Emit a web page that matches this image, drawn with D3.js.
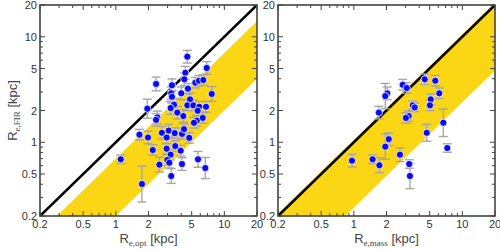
<!DOCTYPE html>
<html><head><meta charset="utf-8">
<script src="https://cdn.jsdelivr.net/npm/d3@7"></script>
<style>body{margin:0;background:#fff}svg{display:block}</style>
</head><body><svg id="c" width="500" height="250"></svg>
<script>
// Left panel: R_e,opt vs R_e,FIR (kpc)
const leftX=[4.56,6.88,4.37,2.35,3.29,4.28,5.40,5.84,6.40,3.24,4.01,4.62,7.65,3.29,4.83,1.95,3.44,3.20,4.56,5.17,5.88,6.78,5.68,3.69,4.19,2.41,2.35,6.32,5.56,5.25,2.66,3.07,3.49,4.07,4.25,1.65,1.98,2.94,4.75,2.19,2.94,3.53,3.96,3.20,2.98,1.11,2.52,3.11,4.07,5.72,6.68,3.24,1.74];
const leftY=[6.47,5.06,4.56,3.57,3.47,3.95,3.67,3.83,3.89,2.91,2.91,3.22,2.87,2.70,2.55,2.08,2.27,2.11,2.24,2.24,2.17,2.17,1.99,1.91,1.77,1.72,1.63,1.70,1.60,1.53,1.23,1.29,1.22,1.20,1.33,1.18,1.11,1.11,1.10,0.844,0.869,0.92,0.832,0.762,0.679,0.689,0.613,0.64,0.622,0.689,0.570,0.479,0.402];
const leftErr=[0.06,0.06,0.06,0.065,0.06,0.06,0.05,0.05,0.05,0.06,0.06,0.05,0.07,0.06,0.06,0.09,0.06,0.06,0.05,0.05,0.05,0.05,0.05,0.06,0.06,0.06,0.06,0.05,0.05,0.05,0.06,0.06,0.05,0.05,0.05,0.05,0.06,0.06,0.05,0.05,0.05,0.05,0.05,0.05,0.05,0.04,0.07,0.05,0.06,0.075,0.1,0.07,0.17];
// Right panel: R_e,mass vs R_e,FIR (kpc)
const rightX=[2.82,3.07,4.50,5.63,2.03,1.95,6.13,5.11,5.03,3.49,3.64,1.70,3.20,3.02,6.68,4.70,2.10,1.95,7.27,0.962,1.49,1.72,2.66,3.24,3.29];
const rightY=[3.51,3.27,3.95,3.83,2.91,2.74,2.91,2.55,2.24,2.24,2.14,1.91,1.77,1.70,1.53,1.23,1.07,0.908,0.882,0.669,0.689,0.605,0.762,0.622,0.479];
const rightErr=[0.05,0.05,0.05,0.05,0.06,0.12,0.05,0.05,0.05,0.04,0.04,0.06,0.05,0.05,0.13,0.08,0.06,0.12,0.04,0.06,0.04,0.07,0.065,0.04,0.12];
// Shaded ratio bands (R_FIR / R_other)
const leftBand=[0.2,0.7];
const rightBand=[0.24,1.06];
const majorTicks=[0.2,0.5,1,2,5,10,20];
const tickLabels=["0.2","0.5","1","2","5","10","20"];
const minorTicks=[0.3,0.4,0.6,0.7,0.8,0.9,3,4,6,7,8,9];
const domain=[0.2,20];

const svg=d3.select("#c");
const T=5,B=216;
const ys=d3.scaleLog().domain(domain).range([B,T]);

function label(g,x,y,sub,rot){
  const t=g.append("text").attr("transform",`translate(${x},${y})`+(rot?" rotate(-90)":""))
    .attr("text-anchor","middle").attr("fill","#444")
    .style("font-family","'Liberation Sans',Arial,sans-serif").style("font-size","13px");
  t.append("tspan").text("R");
  t.append("tspan").attr("dy",3).style("font-family","'Liberation Serif','DejaVu Serif',serif").style("font-size","9px").text(sub);
  t.append("tspan").attr("dy",-3).text(" [kpc]");
}

function panel(id,x0,x1,xsData,ysData,errs,band,sub){
  const xs=d3.scaleLog().domain(domain).range([x0,x1]);
  const g=svg.append("g");
  g.append("clipPath").attr("id","clip"+id).append("rect")
    .attr("x",x0).attr("y",T).attr("width",x1-x0).attr("height",B-T);
  const pg=g.append("g").attr("clip-path",`url(#clip${id})`);
  const bx=[0.02,200];
  const poly=[[bx[0],bx[0]*band[1]],[bx[1],bx[1]*band[1]],[bx[1],bx[1]*band[0]],[bx[0],bx[0]*band[0]]];
  pg.append("path").attr("d",d3.line().x(d=>xs(d[0])).y(d=>ys(d[1]))(poly)+"Z").attr("fill","#fad615");
  pg.append("line").attr("x1",xs(domain[0])).attr("y1",ys(domain[0])).attr("x2",xs(domain[1])).attr("y2",ys(domain[1]))
    .attr("stroke","#000").attr("stroke-width",2.6);
  const pts=xsData.map((x,i)=>({x,y:ysData[i],e:errs[i]}));
  const eb=pg.append("g").attr("stroke","#a6a6a6").attr("stroke-width",1.4).attr("fill","none");
  pts.forEach(p=>{
    const cx=xs(p.x),yt=ys(p.y*Math.pow(10,p.e)),yb=ys(p.y/Math.pow(10,p.e));
    eb.append("line").attr("x1",cx).attr("x2",cx).attr("y1",yt).attr("y2",yb);
    eb.append("line").attr("x1",cx-4.5).attr("x2",cx+4.5).attr("y1",yt).attr("y2",yt);
    eb.append("line").attr("x1",cx-4.5).attr("x2",cx+4.5).attr("y1",yb).attr("y2",yb);
  });
  pg.append("g").selectAll("circle").data(pts).join("circle")
    .attr("cx",d=>xs(d.x)).attr("cy",d=>ys(d.y)).attr("r",3.6)
    .attr("fill","#0a0af5").attr("stroke","#fff").attr("stroke-width",0.8);
  // ticks
  const tk=g.append("g").attr("stroke","#444").attr("stroke-width",1);
  majorTicks.forEach(v=>{
    tk.append("line").attr("x1",xs(v)).attr("x2",xs(v)).attr("y1",B).attr("y2",B-5);
    tk.append("line").attr("x1",xs(v)).attr("x2",xs(v)).attr("y1",T).attr("y2",T+5);
    tk.append("line").attr("y1",ys(v)).attr("y2",ys(v)).attr("x1",x0).attr("x2",x0+5);
    tk.append("line").attr("y1",ys(v)).attr("y2",ys(v)).attr("x1",x1).attr("x2",x1-5);
  });
  minorTicks.forEach(v=>{
    tk.append("line").attr("x1",xs(v)).attr("x2",xs(v)).attr("y1",B).attr("y2",B-3);
    tk.append("line").attr("x1",xs(v)).attr("x2",xs(v)).attr("y1",T).attr("y2",T+3);
    tk.append("line").attr("y1",ys(v)).attr("y2",ys(v)).attr("x1",x0).attr("x2",x0+3);
    tk.append("line").attr("y1",ys(v)).attr("y2",ys(v)).attr("x1",x1).attr("x2",x1-3);
  });
  g.append("rect").attr("x",x0).attr("y",T).attr("width",x1-x0).attr("height",B-T)
    .attr("fill","none").attr("stroke","#444").attr("stroke-width",1.6);
  const tl=g.append("g").attr("fill","#333").style("font-family","'Liberation Sans',Arial,sans-serif").style("font-size","11px");
  majorTicks.forEach((v,i)=>{
    tl.append("text").attr("x",xs(v)).attr("y",B+12).attr("text-anchor","middle").text(tickLabels[i]);
    tl.append("text").attr("x",x0-3).attr("y",ys(v)+4).attr("text-anchor","end").text(tickLabels[i]);
  });
  label(g,(x0+x1)/2,243,sub,false);
}

panel("L",40,257,leftX,leftY,leftErr,leftBand,"e,opt");
panel("R",278,495,rightX,rightY,rightErr,rightBand,"e,mass");
label(svg,17,(T+B)/2,"e,FIR",true);
</script></body></html>
